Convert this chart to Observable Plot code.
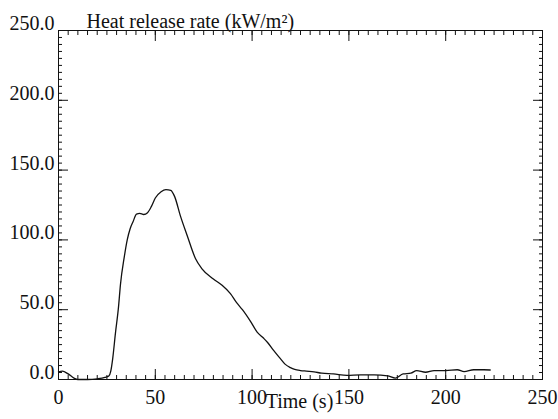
<!DOCTYPE html>
<html>
<head>
<meta charset="utf-8">
<script src="https://cdn.jsdelivr.net/npm/d3@7"></script>
<script src="https://cdn.jsdelivr.net/npm/@observablehq/plot@0.6"></script>
<style>
  html, body { margin: 0; padding: 0; background: #fff; }
  #chart svg { display: block; }
</style>
</head>
<body>
<div id="chart"></div>
<script>
const timeS = [0, 2, 5, 8, 10, 15, 20, 24, 26, 27, 28, 29.4, 31, 32, 34, 35.5, 37, 38.5, 40.3, 42, 44, 46, 48, 50, 53, 55.5, 58, 60, 63, 66.5, 70.8, 74, 80, 84.5, 88.8, 92, 95, 99, 102.6, 106, 108, 111, 114.7, 117, 119.8, 122, 125, 128, 132, 136, 142, 149, 156, 163, 170, 174, 178, 182, 185, 189.6, 194, 200, 206, 209.5, 214.5, 219.7, 223];
const hrr = [5.5, 6, 4, 1, 0, 0, 0.5, 1.5, 2.5, 6, 15, 33, 52, 68, 88, 100, 108, 113, 118.5, 119, 118.2, 119.5, 124, 130, 134.5, 136, 135.5, 131, 117, 103, 86.5, 79.5, 72, 67.5, 61.5, 55, 50, 42, 34, 29.5, 26.5, 21, 14.8, 11, 8.5, 7.2, 6.4, 6, 5.5, 4.5, 4, 3, 3.3, 3.3, 2.6, 1, 4, 4.5, 6.4, 5.2, 6.4, 6.4, 7, 5.7, 7, 7, 6.8];
const xMajor = [0, 50, 100, 150, 200, 250];
const yMajor = [0, 50, 100, 150, 200, 250];
const xMinor = d3.range(0, 251, 5);
const yMinor = d3.range(0, 251, 5);
const titleText = "Heat release rate (kW/m²)";
const xLabelText = "Time (s)";

const data = timeS.map((t, i) => ({t, v: hrr[i]}));
const font = "'Liberation Serif', 'Times New Roman', serif";

const chart = Plot.plot({
  width: 558,
  height: 419,
  marginLeft: 58,
  marginRight: 16,
  marginTop: 30,
  marginBottom: 40,
  style: {fontFamily: font, fontSize: "20px", color: "#111", background: "#fff"},
  x: {domain: [0, 250]},
  y: {domain: [0, 250]},
  marks: [
    Plot.frame({stroke: "#111", strokeWidth: 1}),
    Plot.axisX(xMinor, {anchor: "bottom", tickSize: -4, tickFormat: () => "", label: null, stroke: "#111"}),
    Plot.axisX(xMinor, {anchor: "top", tickSize: -4, tickFormat: () => "", label: null, stroke: "#111"}),
    Plot.axisY(yMinor, {anchor: "left", tickSize: -4, tickFormat: () => "", label: null, stroke: "#111"}),
    Plot.axisY(yMinor, {anchor: "right", tickSize: -4, tickFormat: () => "", label: null, stroke: "#111"}),
    Plot.axisX(xMajor, {anchor: "bottom", tickSize: -10, tickFormat: () => "", label: null, stroke: "#111"}),
    Plot.axisX(xMajor, {anchor: "top", tickSize: -10, tickFormat: () => "", label: null, stroke: "#111"}),
    Plot.axisY(yMajor, {anchor: "left", tickSize: -10, tickFormat: () => "", label: null, stroke: "#111"}),
    Plot.axisY(yMajor, {anchor: "right", tickSize: -10, tickFormat: () => "", label: null, stroke: "#111"}),
    Plot.axisX(xMajor, {anchor: "bottom", tickSize: 0, tickPadding: 10, tickFormat: d => String(d), label: null, fill: "#111", fontSize: 20}),
    Plot.axisY(yMajor, {anchor: "left", tickSize: 0, tickPadding: 4, dy: -7, tickFormat: d3.format(".1f"), label: null, fill: "#111", fontSize: 20}),
    Plot.line(data, {x: "t", y: "v", stroke: "#111", strokeWidth: 1.3, curve: "monotone-x"}),
    Plot.text([titleText], {frameAnchor: "top-left", dx: 28, dy: -17, textAnchor: "start", fontSize: 20, fill: "#111"}),
    Plot.text([xLabelText], {frameAnchor: "bottom", dx: -1, dy: 28, fontSize: 20, fill: "#111"})
  ]
});
document.getElementById("chart").appendChild(chart);
</script>
</body>
</html>
